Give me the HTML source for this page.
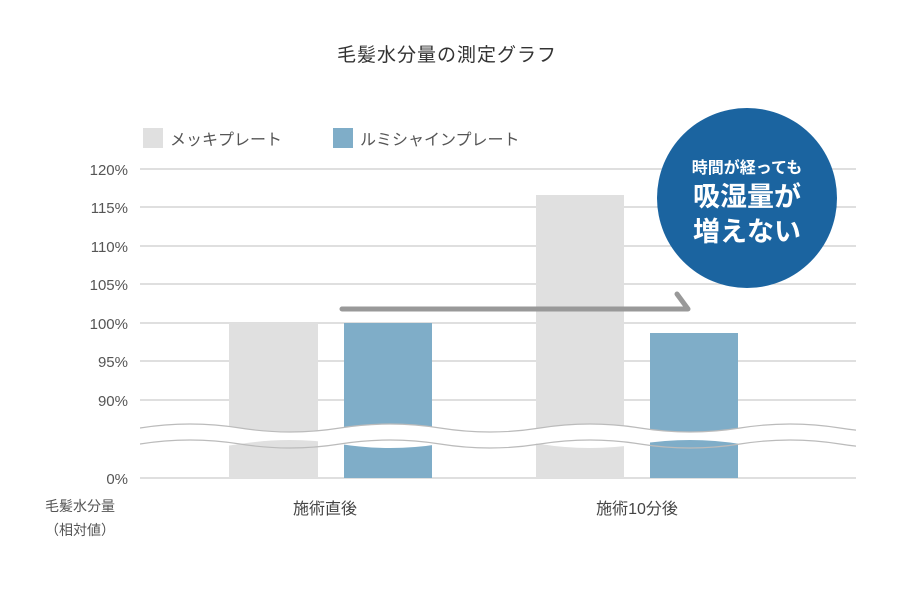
<!DOCTYPE html><html><head><meta charset="utf-8"><style>body{margin:0;background:#fff}svg{display:block}text{font-family:"Liberation Sans","Noto Sans CJK JP",sans-serif}</style></head><body>
<svg width="914" height="598" viewBox="0 0 914 598">
<defs><clipPath id="c"><rect x="140" y="400" width="716" height="70"/></clipPath></defs>
<text x="447" y="61" font-size="19" fill="#333" text-anchor="middle" letter-spacing="1">毛髪水分量の測定グラフ</text>
<rect x="143" y="128" width="20" height="20" fill="#e0e0e0"/><text x="170" y="145" font-size="16" fill="#555">メッキプレート</text>
<rect x="333" y="128" width="20" height="20" fill="#7fadc8"/><text x="360" y="145" font-size="16" fill="#555">ルミシャインプレート</text>
<g stroke="#ccc" stroke-width="1.2">
<line x1="140" y1="169" x2="856" y2="169"/><line x1="140" y1="207" x2="856" y2="207"/><line x1="140" y1="246" x2="856" y2="246"/><line x1="140" y1="284" x2="856" y2="284"/><line x1="140" y1="323" x2="856" y2="323"/><line x1="140" y1="361" x2="856" y2="361"/><line x1="140" y1="400" x2="856" y2="400"/><line x1="140" y1="478" x2="856" y2="478"/></g>
<g font-size="15" fill="#555" text-anchor="end">
<text x="128" y="175">120%</text><text x="128" y="213">115%</text><text x="128" y="252">110%</text><text x="128" y="290">105%</text><text x="128" y="329">100%</text><text x="128" y="367">95%</text><text x="128" y="406">90%</text><text x="128" y="484">0%</text></g>
<rect x="229" y="323" width="89" height="155" fill="#e0e0e0"/>
<rect x="344" y="323" width="88" height="155" fill="#7fadc8"/>
<rect x="536" y="195" width="88" height="283" fill="#e0e0e0"/>
<rect x="650" y="333" width="88" height="145" fill="#7fadc8"/>
<g clip-path="url(#c)">
<path d="M140 428 Q190 420 240 428 T340 428 T440 428 T540 428 T640 428 T740 428 T840 428 T940 428 L940 444 Q890 436 840 444 T740 444 T640 444 T540 444 T440 444 T340 444 T240 444 T140 444 Z" fill="#fff"/>
<path d="M140 428 Q190 420 240 428 T340 428 T440 428 T540 428 T640 428 T740 428 T840 428 T940 428" fill="none" stroke="#bbb" stroke-width="1.2"/>
<path d="M140 444 Q190 436 240 444 T340 444 T440 444 T540 444 T640 444 T740 444 T840 444 T940 444" fill="none" stroke="#bbb" stroke-width="1.2"/>
</g>
<polyline points="342,309 688,309 677,294" fill="none" stroke="#999" stroke-width="5" stroke-linecap="round" stroke-linejoin="round"/>
<circle cx="747" cy="198" r="90" fill="#1b64a0"/>
<text x="747" y="173" font-size="16" font-weight="bold" fill="#fff" text-anchor="middle">時間が経っても</text>
<text x="747" y="206" font-size="27" font-weight="bold" fill="#fff" text-anchor="middle">吸湿量が</text>
<text x="747" y="241" font-size="27" font-weight="bold" fill="#fff" text-anchor="middle">増えない</text>
<text x="325" y="514" font-size="16" fill="#444" text-anchor="middle">施術直後</text>
<text x="637" y="514" font-size="16" fill="#444" text-anchor="middle">施術10分後</text>
<text x="80" y="511" font-size="14" fill="#555" text-anchor="middle">毛髪水分量</text>
<text x="80" y="535" font-size="14" fill="#555" text-anchor="middle">（相対値）</text>
</svg></body></html>
